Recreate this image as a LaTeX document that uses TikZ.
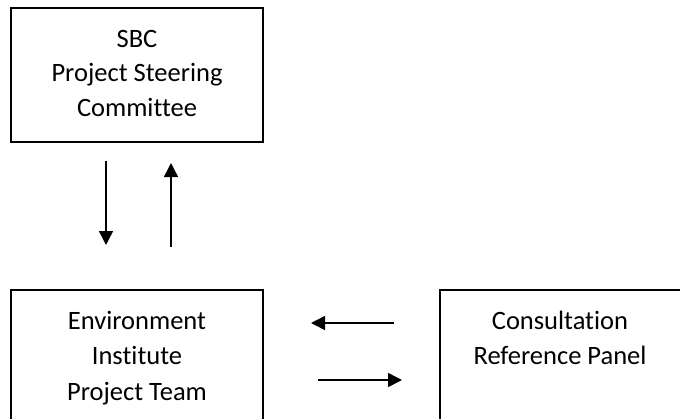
\documentclass[tikz,border=0pt]{standalone}
\usepackage{fontspec}
\setmainfont{Carlito}[Ligatures=CommonOff]
\usetikzlibrary{arrows.meta}
\setlength{\tabcolsep}{0pt}
\begin{document}
\begin{tikzpicture}[x=1pt,y=-1pt,
  boxline/.style={draw,line width=1.5pt},
  txt/.style={anchor=base,inner sep=0pt},
  arr/.style={line width=1.5pt,-{Triangle[width=14pt,length=14pt]}}]
\useasboundingbox (0,0) rectangle (680,418);
\draw[boxline] (11,8) rectangle (263,142);
\node[txt] (sbc) at (137,47) {\fontsize{26.5}{34.5}\selectfont\begin{tabular}[t]{c}SBC\\Project Steering\\Committee\end{tabular}};
\draw[boxline] (11,290) rectangle (263,440);
\node[txt] (env) at (137,329) {\fontsize{26.5}{35.5}\selectfont\begin{tabular}[t]{c}Environment\\Institute\\Project Team\end{tabular}};
\draw[boxline] (440,290) rectangle (684,440);
\node[txt] (crp) at (560,329) {\fontsize{26.5}{35.5}\selectfont\begin{tabular}[t]{c}Consultation\\Reference Panel\end{tabular}};
\coordinate (d1) at (106,161);
\coordinate (d2) at (106,245);
\coordinate (u1) at (171,247);
\coordinate (u2) at (171,163);
\coordinate (l1) at (394,323);
\coordinate (l2) at (311,323);
\coordinate (r1) at (318,380);
\coordinate (r2) at (402,380);
\draw[arr] (d1) -- (d2);
\draw[arr] (u1) -- (u2);
\draw[arr] (l1) -- (l2);
\draw[arr] (r1) -- (r2);
\end{tikzpicture}
\end{document}
